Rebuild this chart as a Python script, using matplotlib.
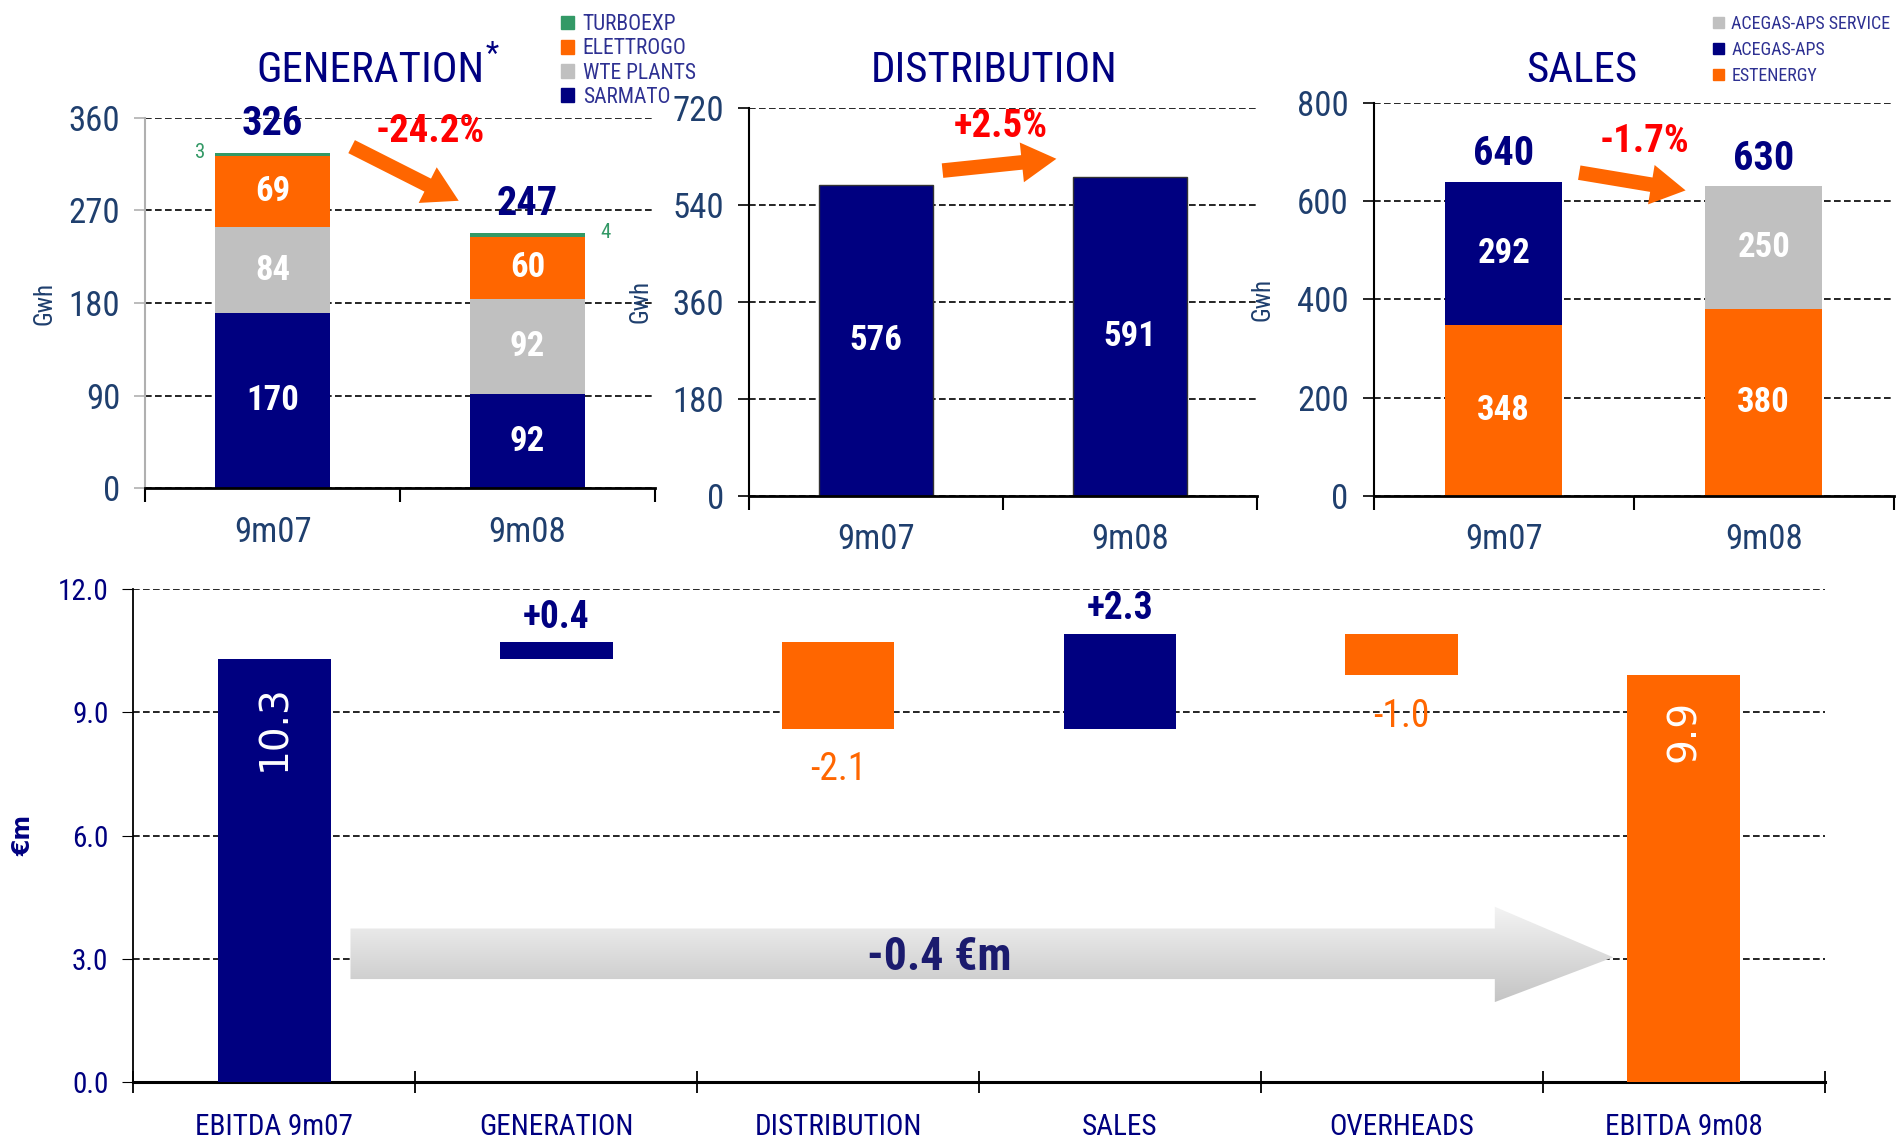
import numpy as np
import matplotlib.pyplot as plt
from matplotlib.patches import Patch, Polygon, FancyArrowPatch
from matplotlib.colors import LinearSegmentedColormap

plt.rcParams['font.family'] = ['Roboto Condensed', 'Liberation Sans Narrow', 'DejaVu Sans']
plt.rcParams['font.stretch'] = 'condensed'

NAVY = '#000080'
ORANGE = '#FF6600'
GREY = '#C0C0C0'
GREEN = '#339966'
TICK_BLUE = '#1F3F6E'
LEG_BLUE = '#2E3192'
RED = '#FF0000'

periods = ['9m07', '9m08']

# generation (Gwh)
gen_sarmato = [170, 92]
gen_wte = [84, 92]
gen_elettrogo = [69, 60]
gen_turboexp = [3, 4]
gen_total = [326, 247]
gen_change = '-24.2%'

# distribution (Gwh)
dist_values = [576, 591]
dist_change = '+2.5%'

# sales (Gwh)
sales_estenergy = [348, 380]
sales_acegas = [292, 0]
sales_service = [0, 250]
sales_total = [640, 630]
sales_change = '-1.7%'

# ebitda bridge (€m)
bridge_labels = ['EBITDA 9m07', 'GENERATION', 'DISTRIBUTION', 'SALES', 'OVERHEADS', 'EBITDA 9m08']
ebitda_start = 10.3
bridge_deltas = [0.4, -2.1, 2.3, -1.0]
ebitda_end = 9.9
bridge_note = '-0.4 €m'


def style_top(ax, ymax, step, spine_color, ylab_x=-0.2):
    ax.set_xlim(-0.5, 1.5)
    ax.set_ylim(0, ymax)
    ax.set_yticks(np.arange(0, ymax + 1, step))
    ax.set_xticks([-0.5, 0.5, 1.5])
    ax.set_xticklabels([])
    ax.set_xticks([0, 1], minor=True)
    ax.set_xticklabels(periods, minor=True)
    ax.tick_params(axis='x', which='minor', length=0, pad=20, labelsize=25, labelcolor=TICK_BLUE)
    ax.tick_params(axis='x', which='major', length=10, width=1.5, direction='out')
    ax.tick_params(axis='y', length=8, width=1.2, labelsize=25, labelcolor=TICK_BLUE, color=spine_color, pad=10)
    ax.yaxis.grid(True, linestyle=(0, (4, 2)), color='black', lw=1.2)
    ax.set_axisbelow(True)
    for s in ['top', 'right']:
        ax.spines[s].set_visible(False)
    ax.spines['left'].set_color(spine_color)
    ax.spines['left'].set_linewidth(1.5)
    ax.spines['bottom'].set_linewidth(2)
    ax.set_ylabel('Gwh', fontsize=18, color=TICK_BLUE)
    ax.yaxis.set_label_coords(ylab_x, 0.5)


def trend_arrow(ax, start, end):
    arr = FancyArrowPatch(start, end, arrowstyle='simple,head_length=1.0,head_width=1.15,tail_width=0.42',
                          mutation_scale=25, color=ORANGE, lw=0, zorder=5)
    ax.add_patch(arr)


def totals(ax, vals, tops, offset=6):
    for i, (v, t) in enumerate(zip(vals, tops)):
        ax.annotate(str(v), (i, t), xytext=(0, offset), textcoords='offset points',
                    ha='center', va='bottom', fontsize=29, fontweight='bold', color=NAVY)


fig = plt.figure(figsize=(19.01, 11.38), dpi=100)

# ---------- GENERATION ----------
ax1 = fig.add_axes([0.0765, 0.5708, 0.2679, 0.3259])
x = np.arange(len(periods))
w = 0.45
b1 = ax1.bar(x, gen_sarmato, w, color=NAVY)
b2 = ax1.bar(x, gen_wte, w, bottom=gen_sarmato, color=GREY)
bot3 = np.add(gen_sarmato, gen_wte)
b3 = ax1.bar(x, gen_elettrogo, w, bottom=bot3, color=ORANGE)
bot4 = bot3 + np.array(gen_elettrogo)
b4 = ax1.bar(x, gen_turboexp, w, bottom=bot4, color=GREEN)
for bars, vals, bots in [(b1, gen_sarmato, np.zeros(2)), (b2, gen_wte, np.array(gen_sarmato)), (b3, gen_elettrogo, bot3)]:
    for i, v in enumerate(vals):
        ax1.text(i, bots[i] + v / 2, str(v), ha='center', va='center', fontsize=25, fontweight='bold', color='white')
gen_tops = bot4 + np.array(gen_turboexp)
ax1.text(0 - w / 2 - 0.04, gen_tops[0], str(gen_turboexp[0]), ha='right', va='center', fontsize=15, color=GREEN)
ax1.text(1 + w / 2 + 0.06, gen_tops[1], str(gen_turboexp[1]), ha='left', va='center', fontsize=15, color=GREEN)
totals(ax1, gen_total, gen_tops, offset=7)
style_top(ax1, 360, 90, '#B0B0B0', ylab_x=-0.175)
ax1.tick_params(axis='x', which='major', color='black')
trend_arrow(ax1, (0.3, 333), (0.74, 278))
ax1.text(0.62, 346, gen_change, ha='center', va='center', fontsize=28, fontweight='bold', color=RED)
fig.text(0.2551, 0.938, 'GENERATION', ha='right', va='center', fontsize=31, color=NAVY)
fig.text(0.2553, 0.952, '*', ha='left', va='center', fontsize=22, color=NAVY)

fig.legend(handles=[Patch(color=GREEN, label='TURBOEXP'), Patch(color=ORANGE, label='ELETTROGO'),
                    Patch(color=GREY, label='WTE PLANTS'), Patch(color=NAVY, label='SARMATO')],
           loc='upper left', bbox_to_anchor=(0.2895, 0.997), frameon=False, fontsize=15.5,
           labelcolor=LEG_BLUE, handlelength=0.6, handleheight=0.6, handletextpad=0.4,
           labelspacing=0.15, borderpad=0)

# ---------- DISTRIBUTION ----------
ax2 = fig.add_axes([0.3941, 0.5644, 0.2673, 0.3408])
ax2.bar(x, dist_values, w, color=NAVY, edgecolor='#333333', lw=1)
for i, v in enumerate(dist_values):
    ax2.text(i, v / 2, str(v), ha='center', va='center', fontsize=25, fontweight='bold', color='white')
style_top(ax2, 720, 180, 'black', ylab_x=-0.19)
trend_arrow(ax2, (0.25, 603), (0.72, 626))
ax2.text(0.49, 686, dist_change, ha='center', va='center', fontsize=28, fontweight='bold', color=RED)
fig.text(0.523, 0.938, 'DISTRIBUTION', ha='center', va='center', fontsize=31, color=NAVY)

# ---------- SALES ----------
ax3 = fig.add_axes([0.7226, 0.5644, 0.2736, 0.3451])
s1 = ax3.bar(x, sales_estenergy, w, color=ORANGE)
ax3.bar(x, sales_acegas, w, bottom=sales_estenergy, color=NAVY)
ax3.bar(x, sales_service, w, bottom=sales_estenergy, color=GREY)
for i in range(2):
    ax3.text(i, sales_estenergy[i] / 2, str(sales_estenergy[i]), ha='center', va='center',
             fontsize=25, fontweight='bold', color='white')
    upper = sales_acegas[i] + sales_service[i]
    ax3.text(i, sales_estenergy[i] + upper / 2, str(upper), ha='center', va='center',
             fontsize=25, fontweight='bold', color='white')
sales_tops = np.array(sales_estenergy) + np.array(sales_acegas) + np.array(sales_service)
totals(ax3, sales_total, sales_tops, offset=6)
style_top(ax3, 800, 200, 'black', ylab_x=-0.19)
trend_arrow(ax3, (0.28, 659), (0.71, 621))
ax3.text(0.54, 721, sales_change, ha='center', va='center', fontsize=28, fontweight='bold', color=RED)
fig.text(0.832, 0.938, 'SALES', ha='center', va='center', fontsize=31, color=NAVY)

fig.legend(handles=[Patch(color=GREY, label='ACEGAS-APS SERVICE'), Patch(color=NAVY, label='ACEGAS-APS'),
                    Patch(color=ORANGE, label='ESTENERGY')],
           loc='upper left', bbox_to_anchor=(0.8965, 0.995), frameon=False, fontsize=13,
           labelcolor=LEG_BLUE, handlelength=0.6, handleheight=0.6, handletextpad=0.4,
           labelspacing=0.45, borderpad=0)

# ---------- EBITDA BRIDGE ----------
ax4 = fig.add_axes([0.0702, 0.049, 0.8896, 0.4334])
xb = np.arange(len(bridge_labels))
levels = np.concatenate([[ebitda_start], ebitda_start + np.cumsum(bridge_deltas)])
bottoms = np.concatenate([[0], np.minimum(levels[:-1], levels[1:]), [0]])
heights = np.concatenate([[ebitda_start], np.abs(bridge_deltas), [ebitda_end]])
colors = [NAVY] + [NAVY if d > 0 else ORANGE for d in bridge_deltas] + [ORANGE]
ax4.bar(xb, heights, 0.4, bottom=bottoms, color=colors, zorder=3)

for i, d in enumerate(bridge_deltas):
    if d > 0:
        ax4.annotate(f'+{d:.1f}', (i + 1, levels[i + 1]), xytext=(0, 5), textcoords='offset points',
                     ha='center', va='bottom', fontsize=27, fontweight='bold', color=NAVY, zorder=4)
    else:
        ax4.annotate(f'{d:.1f}', (i + 1, levels[i + 1]), xytext=(0, -16), textcoords='offset points',
                     ha='center', va='top', fontsize=27, color=ORANGE, zorder=4)
for i, v in [(0, ebitda_start), (len(bridge_labels) - 1, ebitda_end)]:
    ax4.annotate(f'{v:.1f}', (i, v), xytext=(0, -18), textcoords='offset points', rotation=90,
                 ha='center', va='top', fontsize=28, color='white', family='DejaVu Sans',
                 stretch='normal', zorder=4)

# grey gradient arrow
arrow_pts = np.array([[0.27, 2.51], [4.33, 2.51], [4.33, 1.95], [4.75, 3.04],
                      [4.33, 4.27], [4.33, 3.74], [0.27, 3.74]])
poly = Polygon(arrow_pts, closed=True, facecolor='none', edgecolor='none', zorder=2)
ax4.add_patch(poly)
grad_cmap = LinearSegmentedColormap.from_list('g', ['#C4C4C4', '#F4F4F4'])
grad = np.linspace(0, 1, 256).reshape(-1, 1)
img = ax4.imshow(grad, cmap=grad_cmap, aspect='auto', origin='lower',
                 extent=[arrow_pts[:, 0].min(), arrow_pts[:, 0].max(), arrow_pts[:, 1].min(), arrow_pts[:, 1].max()],
                 zorder=2)
img.set_clip_path(poly)
ax4.text(2.36, 3.04, bridge_note, ha='center', va='center', fontsize=33, fontweight='bold',
         color='#1B1B6E', zorder=4)

ax4.set_xlim(-0.5, 5.5)
ax4.set_ylim(0, 12)
ax4.set_yticks(np.arange(0, 12.1, 3))
ax4.yaxis.set_major_formatter('{x:.1f}')
ax4.set_xticks(np.arange(-0.5, 5.6, 1))
ax4.set_xticklabels([])
ax4.set_xticks(xb, minor=True)
ax4.set_xticklabels(bridge_labels, minor=True)
ax4.tick_params(axis='x', which='minor', length=0, pad=22, labelsize=21, labelcolor=NAVY)
ax4.tick_params(axis='x', which='major', length=16, width=1.3, direction='inout')
ax4.tick_params(axis='y', length=8, labelsize=21, labelcolor=NAVY, pad=10)
ax4.yaxis.grid(True, linestyle=(0, (4, 2)), color='black', lw=1.2)
ax4.set_axisbelow(True)
for s in ['top', 'right']:
    ax4.spines[s].set_visible(False)
ax4.spines['bottom'].set_linewidth(2.2)
ax4.spines['left'].set_linewidth(1.3)
ax4.set_ylabel('€m', fontsize=17, fontweight='bold', color=NAVY, family='DejaVu Sans', stretch='normal')
ax4.yaxis.set_label_coords(-0.058, 0.5)

fig.savefig('out.png', dpi=100)
